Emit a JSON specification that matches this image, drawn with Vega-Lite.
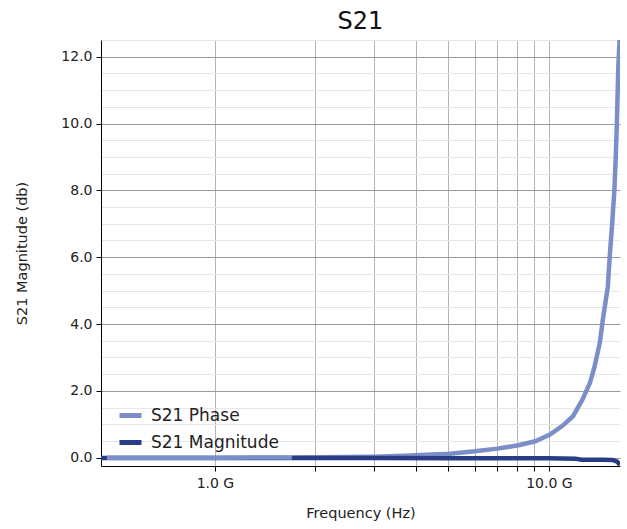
{
  "$schema": "https://vega.github.io/schema/vega-lite/v6.json",
  "autosize": {"type": "none"},
  "padding": {"left": 101, "top": 40, "right": 7, "bottom": 63},
  "width": 519,
  "height": 426,
  "title": {"text": "S21", "fontSize": 24, "font": "DejaVu Sans", "fontWeight": "normal", "color": "#111", "anchor": "middle", "baseline": "alphabetic", "offset": -13},
  "config": {
    "view": {"stroke": null},
    "font": "DejaVu Sans",
    "axis": {"labelFont": "DejaVu Sans", "titleFont": "DejaVu Sans", "labelFontSize": 14, "titleFontSize": 14.5, "titleFontWeight": "normal", "labelColor": "#222", "titleColor": "#222", "domainColor": "#000", "tickColor": "#000", "tickSize": 5}
  },
  "data": {
    "values": [
      {"series": "S21 Magnitude", "f": 456000000, "v": -0.01},
      {"series": "S21 Magnitude", "f": 1000000000, "v": -0.01},
      {"series": "S21 Magnitude", "f": 1700000000, "v": -0.01},
      {"series": "S21 Magnitude", "f": 3000000000, "v": -0.01},
      {"series": "S21 Magnitude", "f": 5000000000, "v": -0.015},
      {"series": "S21 Magnitude", "f": 8000000000, "v": -0.02},
      {"series": "S21 Magnitude", "f": 10000000000, "v": -0.02},
      {"series": "S21 Magnitude", "f": 12000000000, "v": -0.03},
      {"series": "S21 Magnitude", "f": 12500000000, "v": -0.06},
      {"series": "S21 Magnitude", "f": 14500000000, "v": -0.06},
      {"series": "S21 Magnitude", "f": 15500000000, "v": -0.07},
      {"series": "S21 Magnitude", "f": 16000000000, "v": -0.12},
      {"series": "S21 Magnitude", "f": 16320000000, "v": -0.22},
      {"series": "S21 Phase", "f": 475000000, "v": 0.0},
      {"series": "S21 Phase", "f": 1000000000, "v": 0.0},
      {"series": "S21 Phase", "f": 1700000000, "v": 0.005},
      {"series": "S21 Phase", "f": 2500000000, "v": 0.02},
      {"series": "S21 Phase", "f": 3000000000, "v": 0.03},
      {"series": "S21 Phase", "f": 3700000000, "v": 0.06},
      {"series": "S21 Phase", "f": 4300000000, "v": 0.09},
      {"series": "S21 Phase", "f": 5050000000, "v": 0.12},
      {"series": "S21 Phase", "f": 6000000000, "v": 0.19},
      {"series": "S21 Phase", "f": 7000000000, "v": 0.27},
      {"series": "S21 Phase", "f": 8100000000, "v": 0.37},
      {"series": "S21 Phase", "f": 9100000000, "v": 0.49},
      {"series": "S21 Phase", "f": 10070000000, "v": 0.69},
      {"series": "S21 Phase", "f": 11000000000, "v": 0.96},
      {"series": "S21 Phase", "f": 11800000000, "v": 1.24},
      {"series": "S21 Phase", "f": 12600000000, "v": 1.74},
      {"series": "S21 Phase", "f": 13270000000, "v": 2.24},
      {"series": "S21 Phase", "f": 13700000000, "v": 2.73},
      {"series": "S21 Phase", "f": 14200000000, "v": 3.44},
      {"series": "S21 Phase", "f": 14500000000, "v": 4.13},
      {"series": "S21 Phase", "f": 15000000000, "v": 5.1},
      {"series": "S21 Phase", "f": 15200000000, "v": 6.0},
      {"series": "S21 Phase", "f": 15460000000, "v": 7.0},
      {"series": "S21 Phase", "f": 15700000000, "v": 8.0},
      {"series": "S21 Phase", "f": 15850000000, "v": 9.0},
      {"series": "S21 Phase", "f": 15970000000, "v": 10.0},
      {"series": "S21 Phase", "f": 16130000000, "v": 11.7},
      {"series": "S21 Phase", "f": 16320000000, "v": 12.8}
    ]
  },
  "resolve": {"axis": {"y": "independent"}},
  "layer": [
    {
      "transform": [{"filter": "datum.series == 'S21 Magnitude' && datum.f <= 1700000000"}],
      "mark": {"type": "line", "strokeWidth": 4.5, "clip": true},
      "encoding": {
        "x": {"field": "f", "type": "quantitative", "scale": {"type": "log", "domain": [456000000, 16320000000], "nice": false},
          "axis": {"title": "Frequency (Hz)", "values": [1000000000, 2000000000, 3000000000, 4000000000, 5000000000, 6000000000, 7000000000, 8000000000, 9000000000, 10000000000],
            "labelExpr": "datum.value == 1000000000 ? '1.0 G' : (datum.value == 10000000000 ? '10.0 G' : '')",
            "grid": true, "gridColor": "#a0a0a0", "gridOpacity": 0.8, "labelPadding": 5, "titlePadding": 16, "labelFlush": false, "labelOverlap": false}},
        "y": {"field": "v", "type": "quantitative", "scale": {"domain": [-0.25, 12.5], "nice": false, "zero": false},
          "axis": {"orient": "left", "title": null, "labels": false, "ticks": false, "domain": false, "grid": true, "gridColor": "#e6e6e6",
            "values": [0.5, 1, 1.5, 2.5, 3, 3.5, 4.5, 5, 5.5, 6.5, 7, 7.5, 8.5, 9, 9.5, 10.5, 11, 11.5, 12.5]}},
        "color": {"field": "series", "type": "nominal", "scale": {"domain": ["S21 Phase", "S21 Magnitude"], "range": ["#7b8ec8", "#293d87"]},
          "legend": {"title": null, "orient": "none", "legendX": 16, "legendY": 362, "symbolType": "stroke", "symbolSize": 484, "symbolStrokeWidth": 5, "labelFontSize": 17, "labelFont": "DejaVu Sans", "labelColor": "#222", "rowPadding": 3, "labelOffset": 7, "padding": 0}}
      }
    },
    {
      "transform": [{"filter": "datum.series == 'S21 Phase'"}],
      "mark": {"type": "line", "strokeWidth": 4.5, "clip": true},
      "encoding": {
        "x": {"field": "f", "type": "quantitative"},
        "y": {"field": "v", "type": "quantitative",
          "axis": {"orient": "left", "title": "S21 Magnitude (db)", "values": [0, 2, 4, 6, 8, 10, 12], "format": ".1f", "grid": true, "gridColor": "#999999", "labelPadding": 4, "titlePadding": 31}},
        "color": {"field": "series", "type": "nominal"}
      }
    },
    {
      "transform": [{"filter": "datum.series == 'S21 Magnitude' && datum.f >= 1700000000"}],
      "mark": {"type": "line", "strokeWidth": 4.5, "clip": true},
      "encoding": {
        "x": {"field": "f", "type": "quantitative"},
        "y": {"field": "v", "type": "quantitative", "axis": null},
        "color": {"field": "series", "type": "nominal"}
      }
    }
  ]
}
